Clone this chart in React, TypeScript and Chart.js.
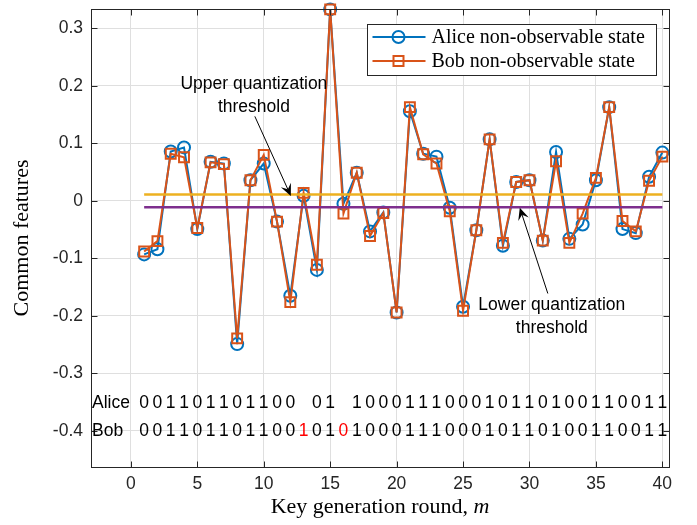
import React, { useEffect, useRef } from 'react';
import { Chart, registerables } from 'chart.js';

Chart.register(...registerables);

// ---------- data ----------
const rounds = [1, 2, 3, 4, 5, 6, 7, 8, 9, 10, 11, 12, 13, 14, 15, 16, 17, 18, 19, 20,
  21, 22, 23, 24, 25, 26, 27, 28, 29, 30, 31, 32, 33, 34, 35, 36, 37, 38, 39, 40];

const aliceValues = [-0.093, -0.084, 0.086, 0.093, -0.049, 0.068, 0.065, -0.249, 0.036, 0.065,
  -0.036, -0.165, 0.009, -0.120, 0.333, -0.005, 0.049, -0.053, -0.020, -0.194,
  0.156, 0.082, 0.077, -0.012, -0.184, -0.051, 0.107, -0.078, 0.033, 0.036,
  -0.069, 0.085, -0.066, -0.041, 0.036, 0.163, -0.049, -0.056, 0.042, 0.084];

const bobValues = [-0.088, -0.070, 0.082, 0.076, -0.047, 0.067, 0.064, -0.239, 0.036, 0.080,
  -0.036, -0.176, 0.014, -0.111, 0.333, -0.022, 0.049, -0.061, -0.021, -0.194,
  0.163, 0.081, 0.065, -0.018, -0.191, -0.051, 0.107, -0.073, 0.033, 0.036,
  -0.069, 0.069, -0.073, -0.022, 0.040, 0.163, -0.035, -0.053, 0.035, 0.077];

const thresholdRounds = [1, 40];
const upperThreshold = [0.011, 0.011];
const lowerThreshold = [-0.011, -0.011];

const aliceBits = ['0', '0', '1', '1', '0', '1', '1', '0', '1', '1', '0', '0', '', '0', '1', '', '1', '0', '0', '0',
  '1', '1', '1', '0', '0', '0', '1', '0', '1', '1', '0', '1', '0', '0', '1', '1', '0', '0', '1', '1'];
const bobBits = ['0', '0', '1', '1', '0', '1', '1', '0', '1', '1', '0', '0', '1', '0', '1', '0', '1', '0', '0', '0',
  '1', '1', '1', '0', '0', '0', '1', '0', '1', '1', '0', '1', '0', '0', '1', '1', '0', '0', '1', '1'];
const bitRowLabels = ['Alice', 'Bob'];
const bitRowValues = [-0.352, -0.4];

const xTicks = [0, 5, 10, 15, 20, 25, 30, 35, 40];
const yTicks = [0.3, 0.2, 0.1, 0, -0.1, -0.2, -0.3, -0.4];
const xRange = [-3, 40.5];
const yRange = [-0.4627, 0.3337];

const legendLabels = ['Alice non-observable state', 'Bob non-observable state'];

// annotations in data coordinates: text centre, arrow tail, arrow tip
const upperNote = { lines: ['Upper quantization', 'threshold'], x: 9.26, y: [0.2024, 0.1626], tail: [9.33, 0.147], tip: [12.04, 0.0087] };
const lowerNote = { lines: ['Lower quantization', 'threshold'], x: 31.68, y: [-0.1817, -0.2215], tail: [31.38, -0.161], tip: [29.27, -0.012] };

const BLUE = '#0072BD';
const ORANGE = '#D95319';
const YELLOW = '#EDB120';
const PURPLE = '#7E2F8E';
const AXIS = '#262626';
const SANS = '"Liberation Sans", Arial, Helvetica, sans-serif';
const SERIF = '"Liberation Serif", "Times New Roman", serif';
const SANS_SIZE = 17.5;

function drawArrow(ctx: CanvasRenderingContext2D, x0: number, y0: number, x1: number, y1: number) {
  const dx = x1 - x0, dy = y1 - y0;
  const len = Math.hypot(dx, dy);
  const ux = dx / len, uy = dy / len;
  const px = -uy, py = ux;
  const L = 12, W = 5.5;
  ctx.beginPath();
  ctx.moveTo(x0, y0);
  ctx.lineTo(x1 - ux * L * 0.6, y1 - uy * L * 0.6);
  ctx.strokeStyle = '#000';
  ctx.lineWidth = 1;
  ctx.stroke();
  ctx.beginPath();
  ctx.moveTo(x1, y1);
  ctx.lineTo(x1 - ux * L + px * W, y1 - uy * L + py * W);
  ctx.lineTo(x1 - ux * L * 0.6, y1 - uy * L * 0.6);
  ctx.lineTo(x1 - ux * L - px * W, y1 - uy * L - py * W);
  ctx.closePath();
  ctx.fillStyle = '#000';
  ctx.fill();
}

const overlayPlugin = {
  id: 'overlay',
  afterDraw(chart: any) {
    const { ctx, chartArea } = chart;
    const { left, right, top, bottom } = chartArea;
    const xs = chart.scales.x;
    const ys = chart.scales.y;
    ctx.save();

    // box
    ctx.strokeStyle = AXIS;
    ctx.lineWidth = 1;
    const L = Math.round(left) + 0.5, R = Math.round(right) + 0.5, T = Math.round(top) + 0.5, B = Math.round(bottom) + 0.5;
    ctx.strokeRect(L, T, R - L, B - T);

    // inward ticks
    const tl = 6;
    ctx.beginPath();
    xTicks.forEach((v) => {
      const px = Math.round(xs.getPixelForValue(v)) + 0.5;
      ctx.moveTo(px, B); ctx.lineTo(px, B - tl);
      ctx.moveTo(px, T); ctx.lineTo(px, T + tl);
    });
    yTicks.forEach((v) => {
      const py = Math.round(ys.getPixelForValue(v)) + 0.5;
      ctx.moveTo(L, py); ctx.lineTo(L + tl, py);
      ctx.moveTo(R, py); ctx.lineTo(R - tl, py);
    });
    ctx.stroke();

    // bit strings
    ctx.font = `${SANS_SIZE}px ${SANS}`;
    ctx.textBaseline = 'middle';
    ctx.textAlign = 'center';
    const yA = ys.getPixelForValue(bitRowValues[0]);
    const yB = ys.getPixelForValue(bitRowValues[1]);
    rounds.forEach((r, i) => {
      const px = xs.getPixelForValue(r);
      if (aliceBits[i]) {
        ctx.fillStyle = '#000';
        ctx.fillText(aliceBits[i], px, yA);
      }
      ctx.fillStyle = aliceBits[i] ? '#000' : '#FF0000';
      ctx.fillText(bobBits[i], px, yB);
    });
    ctx.textAlign = 'left';
    ctx.fillStyle = '#000';
    ctx.fillText(bitRowLabels[0], left + 1, yA);
    ctx.fillText(bitRowLabels[1], left + 1, yB);

    // annotations
    [upperNote, lowerNote].forEach((n) => {
      ctx.font = `${SANS_SIZE}px ${SANS}`;
      ctx.textAlign = 'center';
      ctx.fillStyle = '#000';
      n.lines.forEach((t, k) => ctx.fillText(t, xs.getPixelForValue(n.x), ys.getPixelForValue(n.y[k])));
      drawArrow(ctx, xs.getPixelForValue(n.tail[0]), ys.getPixelForValue(n.tail[1]),
        xs.getPixelForValue(n.tip[0]), ys.getPixelForValue(n.tip[1]));
    });

    // legend
    const bw = 289, bh = 51;
    const bx = Math.round(right - 302) + 0.5, by = Math.round(top + 15) + 0.5;
    ctx.fillStyle = '#fff';
    ctx.fillRect(bx, by, bw, bh);
    ctx.strokeStyle = AXIS;
    ctx.lineWidth = 1;
    ctx.strokeRect(bx, by, bw, bh);
    const rowsY = [by + 12.5, by + 36.5];
    const cols = [BLUE, ORANGE];
    rowsY.forEach((ry, k) => {
      ctx.strokeStyle = cols[k];
      ctx.lineWidth = 2;
      ctx.beginPath();
      ctx.moveTo(bx + 5, ry); ctx.lineTo(bx + 58, ry);
      ctx.stroke();
      const mx = bx + 31;
      ctx.beginPath();
      if (k === 0) {
        ctx.arc(mx, ry, 6, 0, Math.PI * 2);
      } else {
        ctx.rect(mx - 5, ry - 5, 10, 10);
      }
      ctx.stroke();
      ctx.fillStyle = '#000';
      ctx.font = `20px ${SERIF}`;
      ctx.textAlign = 'left';
      ctx.textBaseline = 'middle';
      ctx.fillText(legendLabels[k], bx + 64, ry + 1);
    });

    // axis titles
    ctx.fillStyle = '#000';
    ctx.textBaseline = 'middle';
    ctx.save();
    ctx.translate(22, (top + bottom) / 2);
    ctx.rotate(-Math.PI / 2);
    ctx.textAlign = 'center';
    ctx.font = `22px ${SERIF}`;
    ctx.fillText('Common features', 0, 0);
    ctx.restore();

    const main = 'Key generation round, ';
    ctx.font = `22px ${SERIF}`;
    const w1 = ctx.measureText(main).width;
    ctx.font = `italic 22px ${SERIF}`;
    const w2 = ctx.measureText('m').width;
    const sx = (left + right) / 2 - (w1 + w2) / 2;
    ctx.textAlign = 'left';
    ctx.font = `22px ${SERIF}`;
    ctx.fillText(main, sx, 507);
    ctx.font = `italic 22px ${SERIF}`;
    ctx.fillText('m', sx + w1, 507);

    ctx.restore();
  },
};

export default function App() {
  const ref = useRef<HTMLCanvasElement | null>(null);

  useEffect(() => {
    if (!ref.current) return;
    const toPts = (xsArr: number[], ysArr: number[]) => xsArr.map((x, i) => ({ x, y: ysArr[i] }));
    const chart = new Chart(ref.current, {
      type: 'line',
      data: {
        datasets: [
          {
            label: 'upper',
            data: toPts(thresholdRounds, upperThreshold),
            borderColor: YELLOW,
            borderWidth: 2.5,
            pointRadius: 0,
            order: 1,
          },
          {
            label: 'lower',
            data: toPts(thresholdRounds, lowerThreshold),
            borderColor: PURPLE,
            borderWidth: 2.5,
            pointRadius: 0,
            order: 2,
          },
          {
            label: legendLabels[1],
            data: toPts(rounds, bobValues),
            borderColor: ORANGE,
            borderWidth: 2,
            pointStyle: 'rect',
            pointRadius: 7,
            pointBorderWidth: 2,
            pointBorderColor: ORANGE,
            pointBackgroundColor: 'rgba(0,0,0,0)',
            clip: false,
            order: 3,
          },
          {
            label: legendLabels[0],
            data: toPts(rounds, aliceValues),
            borderColor: BLUE,
            borderWidth: 2,
            pointStyle: 'circle',
            pointRadius: 6,
            pointBorderWidth: 2,
            pointBorderColor: BLUE,
            pointBackgroundColor: 'rgba(0,0,0,0)',
            clip: false,
            order: 4,
          },
        ],
      },
      options: {
        responsive: false,
        animation: false,
        devicePixelRatio: 1,
        layout: { padding: { top: 7, right: 28, left: 0, bottom: 0 } },
        plugins: { legend: { display: false }, tooltip: { enabled: false } },
        elements: { line: { tension: 0 } },
        scales: {
          x: {
            type: 'linear',
            min: xRange[0],
            max: xRange[1],
            afterBuildTicks: (s: any) => { s.ticks = xTicks.map((v) => ({ value: v })); },
            afterFit: (s: any) => { s.height = 58; s.paddingLeft = 0; s.paddingRight = 0; },
            grid: { color: '#dfdfdf', lineWidth: 1, drawTicks: false },
            border: { display: false },
            ticks: {
              padding: 7,
              color: AXIS,
              font: { family: SANS, size: SANS_SIZE },
              callback: (v: any) => String(v),
              maxRotation: 0,
            },
          },
          y: {
            type: 'linear',
            min: yRange[0],
            max: yRange[1],
            afterBuildTicks: (s: any) => { s.ticks = yTicks.map((v) => ({ value: v })); },
            afterFit: (s: any) => { s.width = 91; s.paddingTop = 0; s.paddingBottom = 0; },
            grid: { color: '#dfdfdf', lineWidth: 1, drawTicks: false },
            border: { display: false },
            ticks: {
              padding: 8,
              color: AXIS,
              font: { family: SANS, size: SANS_SIZE },
              callback: (v: any) => String(Math.round(Number(v) * 10) / 10),
            },
          },
        },
      },
      plugins: [overlayPlugin],
    } as any);
    return () => chart.destroy();
  }, []);

  return (
    <div style={{ position: 'absolute', left: 0, top: 0, width: 697, height: 525, background: '#fff' }}>
      <canvas ref={ref} width={697} height={525} style={{ display: 'block' }} />
    </div>
  );
}
